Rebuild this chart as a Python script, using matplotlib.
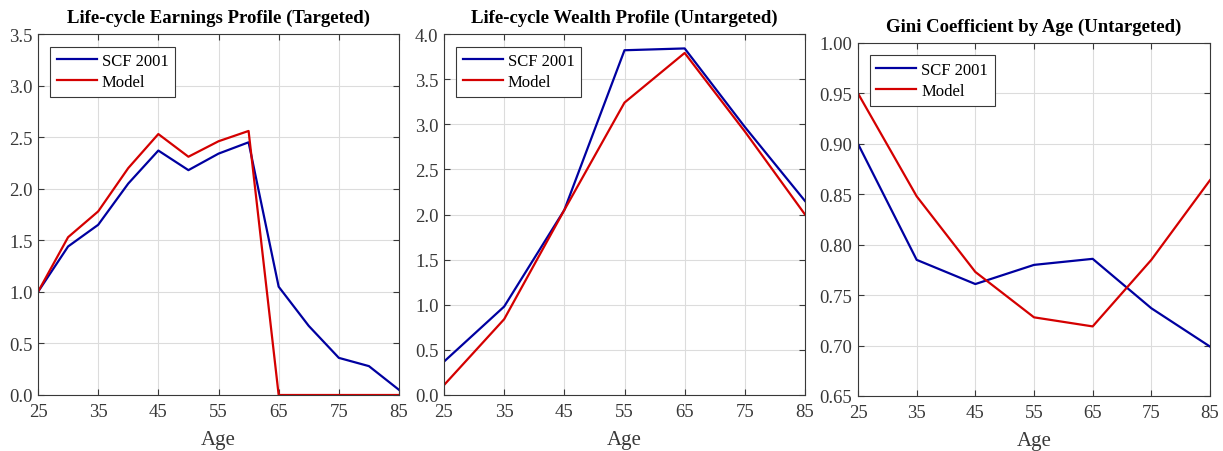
import numpy as np
import matplotlib
matplotlib.use("Agg")
import matplotlib.pyplot as plt

plt.rcParams['font.family'] = ['Liberation Serif', 'DejaVu Serif']

# earnings profile (ages 25..85, every 5 years)
age_earn = [25, 30, 35, 40, 45, 50, 55, 60, 65, 70, 75, 80, 85]
earn_scf = [1.00, 1.44, 1.65, 2.05, 2.37, 2.18, 2.34, 2.45, 1.05, 0.67, 0.36, 0.28, 0.05]
earn_model = [1.00, 1.53, 1.78, 2.20, 2.53, 2.31, 2.46, 2.56, 0.0, 0.0, 0.0, 0.0, 0.0]

# wealth profile and gini (ages 25..85, every 10 years)
age_dec = [25, 35, 45, 55, 65, 75, 85]
wealth_scf = [0.37, 0.98, 2.05, 3.82, 3.84, 2.97, 2.15]
wealth_model = [0.11, 0.84, 2.05, 3.24, 3.79, 2.92, 2.00]
gini_scf = [0.900, 0.785, 0.761, 0.780, 0.786, 0.737, 0.699]
gini_model = [0.950, 0.848, 0.773, 0.728, 0.719, 0.785, 0.864]

titles = ['Life-cycle Earnings Profile (Targeted)',
          'Life-cycle Wealth Profile (Untargeted)',
          'Gini Coefficient by Age (Untargeted)']
xticks = [25, 35, 45, 55, 65, 75, 85]

W, H = 1223, 452
fig = plt.figure(figsize=(W / 100, H / 100), dpi=100)

# axes boxes in pixels: left, top, right, bottom
boxes = [(38, 35, 399, 396), (444, 35, 805, 396), (858, 44, 1210, 397)]
axs = []
for (l, t, r, b) in boxes:
    axs.append(fig.add_axes([l / W, 1 - b / H, (r - l) / W, (b - t) / H]))

blue = '#0000a0'
red = '#d40000'
txt = '#383838'

data = [(age_earn, earn_scf, earn_model, (0, 3.5), np.arange(0, 3.51, 0.5), '%.1f'),
        (age_dec, wealth_scf, wealth_model, (0, 4.0), np.arange(0, 4.01, 0.5), '%.1f'),
        (age_dec, gini_scf, gini_model, (0.65, 1.0), np.arange(0.65, 1.001, 0.05), '%.2f')]

for ax, title, (x, s, m, ylim, yt, fmt) in zip(axs, titles, data):
    ax.plot(x, s, color=blue, lw=1.6, label='SCF 2001')
    ax.plot(x, m, color=red, lw=1.6, label='Model')
    ax.set_xlim(25, 85)
    ax.set_ylim(*ylim)
    ax.set_xticks(xticks)
    ax.set_yticks(yt)
    ax.set_yticklabels([fmt % v for v in yt])
    ax.grid(True, color='#dcdcdc', lw=0.8)
    ax.set_axisbelow(True)
    ax.tick_params(direction='in', top=True, right=True, length=4, labelsize=13.5,
                   colors=txt, pad=6)
    ax.tick_params(axis='y', pad=4)
    for sp in ax.spines.values():
        sp.set_color(txt)
        sp.set_linewidth(0.8)
    ax.set_xlabel('Age', fontsize=15, color=txt, labelpad=7)
    ax.set_title(title, fontsize=13.5, fontweight='bold', pad=9)
    leg = ax.legend(loc='upper left', fontsize=12, fancybox=False, edgecolor=txt,
                    framealpha=1, handlelength=2.4, borderpad=0.4, labelspacing=0.3,
                    handletextpad=0.3, borderaxespad=0, bbox_to_anchor=(0.033, 0.965))
    leg.get_frame().set_linewidth(0.8)

fig.savefig('out.png', dpi=100)
